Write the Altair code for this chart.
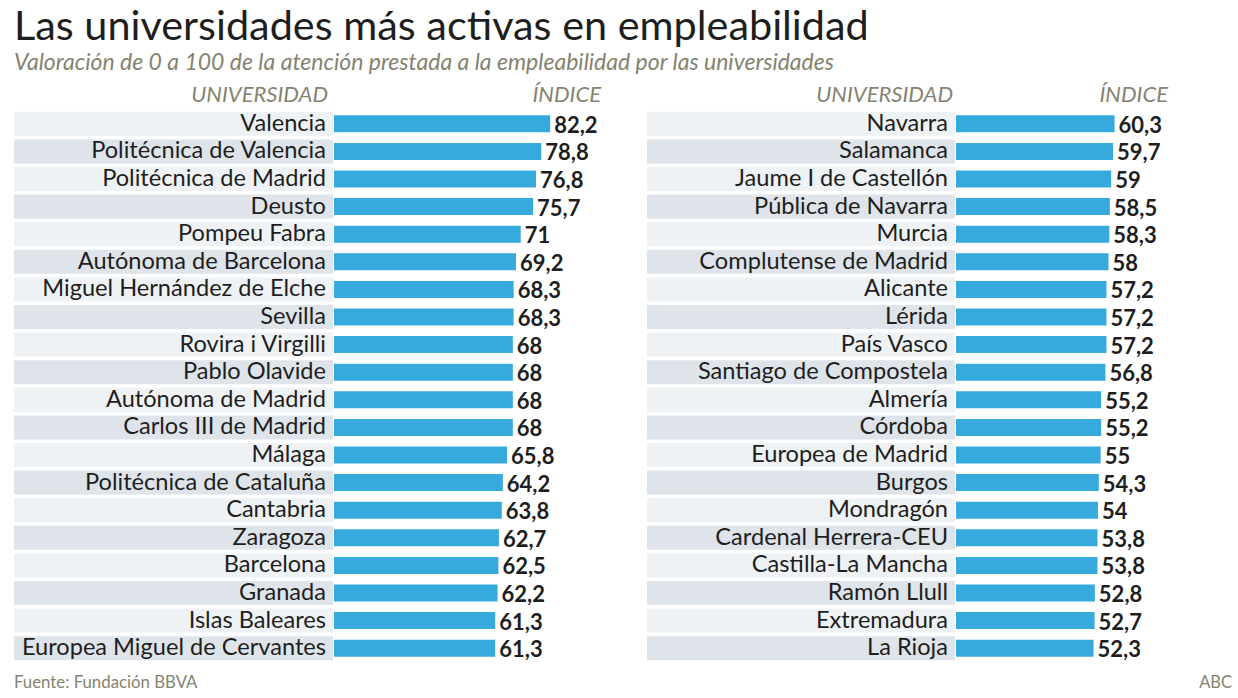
import altair as alt
import pandas as pd

# ---- data ----
left_names = ["Valencia", "Politécnica de Valencia", "Politécnica de Madrid", "Deusto",
              "Pompeu Fabra", "Autónoma de Barcelona", "Miguel Hernández de Elche", "Sevilla",
              "Rovira i Virgilli", "Pablo Olavide", "Autónoma de Madrid", "Carlos III de Madrid",
              "Málaga", "Politécnica de Cataluña", "Cantabria", "Zaragoza", "Barcelona",
              "Granada", "Islas Baleares", "Europea Miguel de Cervantes"]
left_values = [82.2, 78.8, 76.8, 75.7, 71, 69.2, 68.3, 68.3, 68, 68, 68, 68,
               65.8, 64.2, 63.8, 62.7, 62.5, 62.2, 61.3, 61.3]

right_names = ["Navarra", "Salamanca", "Jaume I de Castellón", "Pública de Navarra", "Murcia",
               "Complutense de Madrid", "Alicante", "Lérida", "País Vasco",
               "Santiago de Compostela", "Almería", "Córdoba", "Europea de Madrid", "Burgos",
               "Mondragón", "Cardenal Herrera-CEU", "Castilla-La Mancha", "Ramón Llull",
               "Extremadura", "La Rioja"]
right_values = [60.3, 59.7, 59, 58.5, 58.3, 58, 57.2, 57.2, 57.2, 56.8, 55.2, 55.2, 55,
                54.3, 54, 53.8, 53.8, 52.8, 52.7, 52.3]

title_text = "Las universidades más activas en empleabilidad"
subtitle_text = "Valoración de 0 a 100 de la atención prestada a la empleabilidad por las universidades"
source_text = "Fuente: Fundación BBVA"
credit_text = "ABC"


def fmt(v):
    return str(int(v)) if float(v).is_integer() else f"{v:.1f}".replace(".", ",")


def frame(names, values):
    return pd.DataFrame({
        "name": names,
        "value": values,
        "rank": list(range(1, len(names) + 1)),
        "label": [fmt(v) for v in values],
        "shade": ["a" if i % 2 == 0 else "b" for i in range(len(names))],
    })


dl = frame(left_names, left_values)
dr = frame(right_names, right_values)

FONT = "Lato"
W, H = 1224, 552
BLUE = "#36a9dd"
DARK = "#1e1e1e"
GREY = "#85836f"

y_enc = alt.Y("rank:O", axis=None,
              scale=alt.Scale(paddingInner=0.13, paddingOuter=0.065))
shade = alt.Color("shade:N", legend=None,
                  scale=alt.Scale(domain=["a", "b"], range=["#eef2f4", "#dee4e9"]))


def panel(df, stripe_x0, stripe_x1, label_x, bar_x0):
    xs = alt.Scale(domain=[0, 100], range=[bar_x0, bar_x0 + 263])
    base = alt.Chart(df)
    stripes = base.mark_rect().encode(
        x=alt.value(stripe_x0), x2=alt.value(stripe_x1), y=y_enc, color=shade)
    names = base.mark_text(align="right", baseline="middle", font=FONT,
                           fontSize=23.6, color=DARK).encode(
        x=alt.value(label_x), y=y_enc, text="name:N")
    bars = base.mark_bar(size=17, color=BLUE).encode(
        x=alt.X("value:Q", scale=xs, axis=None), y=y_enc)
    vals = base.mark_text(align="left", baseline="middle", dx=4, dy=2, font=FONT,
                          fontSize=22, fontWeight="bold", color=DARK).encode(
        x=alt.X("value:Q", scale=xs, axis=None), y=y_enc, text="label:N")
    return [stripes, names, bars, vals]


def label(text, x, y, size, align="left", color=DARK, style="normal", weight="normal"):
    return alt.Chart(pd.DataFrame({"t": [text]})).mark_text(
        align=align, baseline="alphabetic", font=FONT, fontSize=size,
        fontStyle=style, fontWeight=weight, color=color).encode(
        x=alt.value(x), y=alt.value(y), text="t:N")


layers = []
layers += panel(dl, 0, 319, 312, 320)
layers += panel(dr, 633, 941, 934, 942)
layers += [
    label(title_text, 0, -70, 41.4),
    label(subtitle_text, 0, -40, 23, color=GREY, style="italic"),
    label("UNIVERSIDAD", 314, -8, 22, align="right", color=GREY, style="italic"),
    label("ÍNDICE", 587, -8, 22, align="right", color=GREY, style="italic"),
    label("UNIVERSIDAD", 939, -8, 22, align="right", color=GREY, style="italic"),
    label("ÍNDICE", 1154, -8, 22, align="right", color=GREY, style="italic"),
    label(source_text, 0, 578, 16.8, color=GREY),
    label(credit_text, 1218, 578, 16.5, align="right", color=GREY),
]

chart = alt.layer(*layers).resolve_scale(x="independent").properties(
    width=W, height=H,
    autosize=alt.AutoSizeParams(type="none"),
    padding={"left": 14, "top": 110, "right": 0, "bottom": 36},
    background="white",
).configure_view(stroke=None)

chart.save("out.html", embed_options={"renderer": "svg", "actions": False})
